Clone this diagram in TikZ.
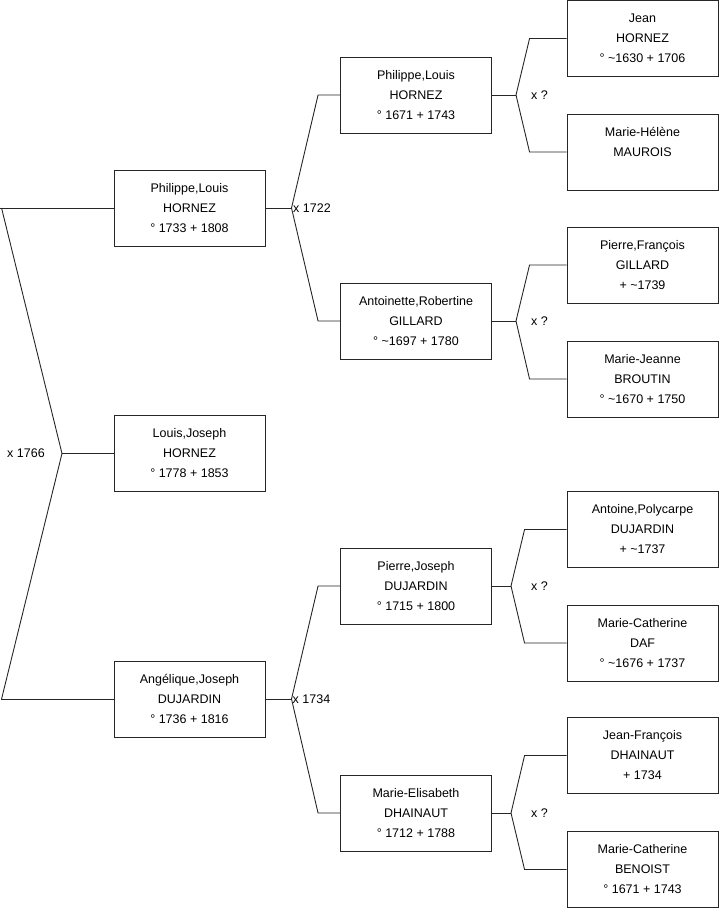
\documentclass[tikz,border=0pt]{standalone}
\usepackage{fontspec}
\setmainfont{Liberation Sans}
\usetikzlibrary{positioning,calc}

\begin{document}
\begin{tikzpicture}[
  x=1pt,y=-1pt,
  box/.style={draw=black!85, line width=0.9pt, align=center, minimum width=151pt, minimum height=76pt, inner sep=0pt, font=\fontsize{12.5}{20}\selectfont},
  link/.style={draw=black!85, line width=0.9pt},
  wed/.style={anchor=west, inner sep=0pt, font=\fontsize{12.5}{15}\selectfont}
]
\useasboundingbox (0,0) rectangle (719,908);
% generation 1 and 2
\node[box] (root) at (189.5,453.5) {Louis,Joseph\\HORNEZ\\° 1778 + 1853};
\node[box] (pa) at (189.5,208) {Philippe,Louis\\HORNEZ\\° 1733 + 1808};
\node[box] (ma) at (189.5,699) {Angélique,Joseph\\DUJARDIN\\° 1736 + 1816};
% generation 3
\node[box] (papa) at (416,95) {Philippe,Louis\\HORNEZ\\° 1671 + 1743};
\node[box] (pama) at (416,321) {Antoinette,Robertine\\GILLARD\\° \textasciitilde1697 + 1780};
\node[box] (mapa) at (416,586) {Pierre,Joseph\\DUJARDIN\\° 1715 + 1800};
\node[box] (mama) at (416,813) {Marie-Elisabeth\\DHAINAUT\\° 1712 + 1788};
% generation 4
\node[box] (papapa) at (642.5,38.5) {Jean\\HORNEZ\\° \textasciitilde1630 + 1706};
\node[box] (papama) at (642.5,152) {Marie-Hélène\\MAUROIS\\\mbox{}};
\node[box] (pamapa) at (642.5,265) {Pierre,François\\GILLARD\\+ \textasciitilde1739};
\node[box] (pamama) at (642.5,379) {Marie-Jeanne\\BROUTIN\\° \textasciitilde1670 + 1750};
\node[box] (mapapa) at (642.5,529.5) {Antoine,Polycarpe\\DUJARDIN\\+ \textasciitilde1737};
\node[box] (mapama) at (642.5,643) {Marie-Catherine\\DAF\\° \textasciitilde1676 + 1737};
\node[box] (mamapa) at (642.5,755.5) {Jean-François\\DHAINAUT\\+ 1734};
\node[box] (mamama) at (642.5,869.5) {Marie-Catherine\\BENOIST\\° 1671 + 1743};
% marriage points
\coordinate (xroot) at (62,453.5);
\coordinate (xpa) at (291.5,208); \coordinate (xma) at (291.5,699);
\coordinate (xpapa) at (516,95); \coordinate (xpama) at (516,321);
\coordinate (xmapa) at (511,586); \coordinate (xmama) at (511,813);
\node[wed] (wroot) at (7,453.5) {x 1766};
\node[wed] (wpa) at (293,208) {x 1722}; \node[wed] (wma) at (292.5,699) {x 1734};
\node[wed] (wpapa) at (531,95) {x ?}; \node[wed] (wpama) at (531,321) {x ?};
\node[wed] (wmapa) at (531,586) {x ?}; \node[wed] (wmama) at (531,813) {x ?};
% brackets
\draw[link] (root.west) -- (xroot); \draw[link] (pa.west) -- ++(-114,0); \draw[link] (ma.west) -- ++(-113,0);
\draw[link] ([xshift=-112pt]pa.west) -- (xroot) -- ([xshift=-112pt]ma.west);
\draw[link] (pa.east) -- (xpa); \draw[link] (xpa) -- ([xshift=-22pt]papa.west) -- (papa.west); \draw[link] (xpa) -- ([xshift=-22pt]pama.west) -- (pama.west);
\draw[link] (ma.east) -- (xma); \draw[link] (xma) -- ([xshift=-22pt]mapa.west) -- (mapa.west); \draw[link] (xma) -- ([xshift=-22pt]mama.west) -- (mama.west);
\draw[link] (papa.east) -- (xpapa); \draw[link] (xpapa) -- ([xshift=-37pt]papapa.west) -- (papapa.west); \draw[link] (xpapa) -- ([xshift=-37pt]papama.west) -- (papama.west);
\draw[link] (pama.east) -- (xpama); \draw[link] (xpama) -- ([xshift=-37pt]pamapa.west) -- (pamapa.west); \draw[link] (xpama) -- ([xshift=-37pt]pamama.west) -- (pamama.west);
\draw[link] (mapa.east) -- (xmapa); \draw[link] (xmapa) -- ([xshift=-42pt]mapapa.west) -- (mapapa.west); \draw[link] (xmapa) -- ([xshift=-42pt]mapama.west) -- (mapama.west);
\draw[link] (mama.east) -- (xmama); \draw[link] (xmama) -- ([xshift=-42pt]mamapa.west) -- (mamapa.west); \draw[link] (xmama) -- ([xshift=-42pt]mamama.west) -- (mamama.west);
\end{tikzpicture}
\end{document}
